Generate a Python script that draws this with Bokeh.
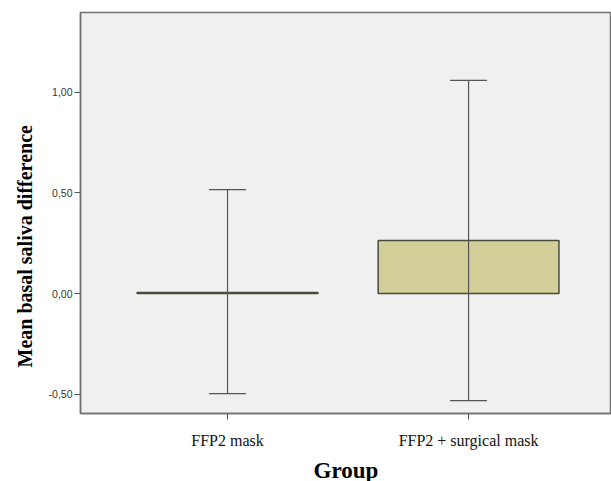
from bokeh.plotting import figure
from bokeh.models import Range1d, FixedTicker, CustomJSTickFormatter, Title, ColumnDataSource
from bokeh.embed import file_html
from bokeh.resources import INLINE

# Data
groups = ["FFP2 mask", "FFP2 + surgical mask"]
means = [0.006, 0.264]
ci_low = [-0.497, -0.532]
ci_high = [0.517, 1.060]
y_ticks = [-0.5, 0.0, 0.5, 1.0]

xpos = [i + 1 for i in range(len(groups))]
bar_w = 0.75
cap_w = 0.153

src = ColumnDataSource(dict(
    x=xpos, top=means, low=ci_low, high=ci_high,
    cx0=[x - cap_w / 2 for x in xpos], cx1=[x + cap_w / 2 for x in xpos],
))

p = figure(width=611, height=473, output_backend="svg", toolbar_location=None,
           x_range=Range1d(0.39, 2.593), y_range=Range1d(-0.596, 1.397),
           frame_width=531, frame_height=401,
           min_border_left=80, min_border_top=12, min_border_right=0, min_border_bottom=0)

p.background_fill_color = "#f0f0f0"
p.border_fill_color = "white"
p.outline_line_color = "#707070"
p.outline_line_width = 1.5
p.xgrid.visible = False
p.ygrid.visible = False

p.vbar(x="x", top="top", bottom=0, width=bar_w, source=src,
       fill_color="#d3cf98", line_color="#4a4a3c", line_width=1.5)
p.segment(x0="x", y0="low", x1="x", y1="high", source=src, line_color="#555555", line_width=1.2)
p.segment(x0="cx0", y0="high", x1="cx1", y1="high", source=src, line_color="#555555", line_width=1.2)
p.segment(x0="cx0", y0="low", x1="cx1", y1="low", source=src, line_color="#555555", line_width=1.2)

# y axis
p.yaxis.ticker = FixedTicker(ticks=y_ticks)
p.yaxis.formatter = CustomJSTickFormatter(code="return tick.toFixed(2).replace('.', ',');")
p.yaxis.minor_tick_line_color = None
p.yaxis.major_tick_out = 6
p.yaxis.major_tick_in = 0
p.yaxis.major_label_standoff = 2
p.yaxis.major_label_text_font = "Liberation Sans"
p.yaxis.major_label_text_font_size = "10.5px"
p.yaxis.major_label_text_color = "#333333"
p.yaxis.axis_line_color = "#707070"
p.yaxis.axis_line_width = 1.5
p.yaxis.major_tick_line_color = "#555555"

# x axis
p.xaxis.ticker = FixedTicker(ticks=xpos)
p.xaxis.major_label_overrides = {x: g for x, g in zip(xpos, groups)}
p.xaxis.minor_tick_line_color = None
p.xaxis.major_tick_out = 6
p.xaxis.major_tick_in = 0
p.xaxis.major_label_standoff = 12
p.xaxis.major_label_text_font = "Liberation Serif"
p.xaxis.major_label_text_font_size = "16px"
p.xaxis.major_label_text_color = "#111111"
p.xaxis.axis_line_color = "#707070"
p.xaxis.axis_line_width = 1.5
p.xaxis.major_tick_line_color = "#555555"
p.xaxis.axis_label = "Group"
p.xaxis.axis_label_text_font = "Liberation Serif"
p.xaxis.axis_label_text_font_style = "bold"
p.xaxis.axis_label_text_font_size = "23px"
p.xaxis.axis_label_text_color = "#000000"
p.xaxis.axis_label_standoff = 6

ytitle = Title(text="Mean basal saliva difference", align="left", offset=46,
               text_font="Liberation Serif", text_font_style="bold", text_font_size="20px",
               text_color="#000000", standoff=20)
p.add_layout(ytitle, "left")

open("out.html", "w").write(file_html(p, INLINE))
